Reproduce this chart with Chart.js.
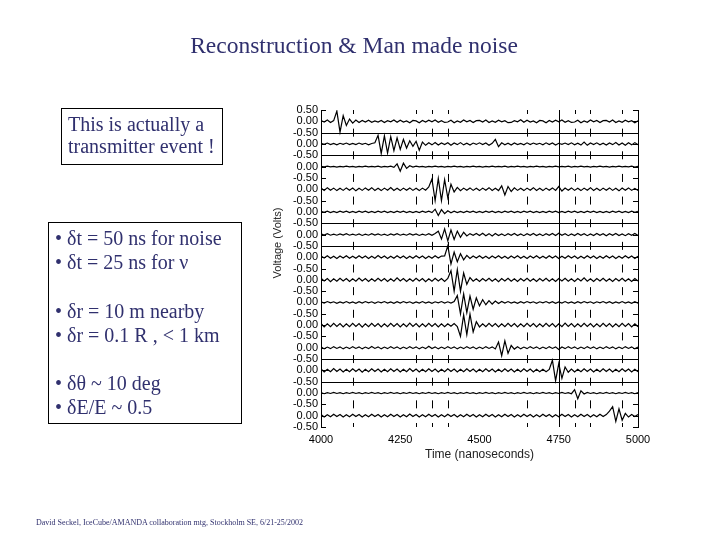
<!DOCTYPE html>
<html>
<head>
<meta charset="utf-8">
<script src="https://cdn.jsdelivr.net/npm/chart.js@4.4.0/dist/chart.umd.min.js"></script>
<style>
  body { margin: 0; background: #fff; }
  #pagina { position: relative; width: 720px; height: 540px; overflow: hidden; }
  #grafico { position: absolute; left: 0; top: 0; }
  .texto { position: absolute; font-family: "Liberation Serif", "Times New Roman", serif; color: #30306e; white-space: nowrap; }
  #titulo { left: 0; width: 708px; top: 32px; text-align: center; font-size: 23.5px; }
  .caixa { border: 1px solid #000; box-sizing: border-box; font-size: 20px; }
  #caixa1 { left: 61px; top: 108px; width: 162px; height: 57px; padding: 4px 0 0 6px; line-height: 22px; }
  #caixa2 { left: 48px; top: 222px; width: 194px; height: 202px; padding: 3px 0 0 6px; line-height: 24.2px; }
  #rodape { left: 36px; top: 518px; font-size: 8px; color: #30306e; }
  #tituloY { position: absolute; left: 227px; top: 236px; width: 100px; height: 14px; line-height: 14px;
             text-align: center; font-family: "Liberation Sans", Arial, sans-serif; font-size: 11px; color: #222;
             transform: rotate(-90deg); white-space: nowrap; }
</style>
</head>
<body>
<div id="pagina">
  <canvas id="grafico" width="720" height="540"></canvas>
  <div class="texto" id="titulo">Reconstruction &amp; Man made noise</div>
  <div class="texto caixa" id="caixa1">This is actually a<br>transmitter event !</div>
  <div class="texto caixa" id="caixa2">• δt = 50 ns for noise<br>• δt = 25 ns for ν<br><br>• δr = 10 m nearby<br>• δr = 0.1 R , &lt; 1 km<br><br>• δθ ~ 10 deg<br>• δE/E ~ 0.5</div>
  <div id="tituloY">Voltage (Volts)</div>
  <div class="texto" id="rodape">David Seckel, IceCube/AMANDA collaboration mtg, Stockholm SE, 6/21-25/2002</div>
</div>
<script>
// Amostragem comum dos tracos (ns)
const inicioAmostra = 4000;
const passoAmostra = 10;

// Tensao (V) de cada canal, uma amostra a cada 10 ns
const traco1 = [
  0.04, -0.03, 0.06, -0.05, 0.03, 0.45, -0.48, 0.25, -0.18, 0.10,
  -0.08, 0.06, -0.05, 0.04, -0.03, 0.05, -0.04, 0.02, -0.03, 0.04,
  -0.05, 0.03, -0.02, 0.06, -0.04, 0.05, -0.03, 0.02, -0.06, 0.04,
  0.02, -0.06, 0.04, -0.03, 0.05, -0.02, 0.06, -0.04, 0.03, -0.05,
  -0.03, 0.05, -0.06, 0.02, -0.04, 0.06, -0.02, 0.04, -0.05, 0.03,
  0.04, -0.03, 0.06, -0.05, 0.02, -0.04, 0.05, -0.02, 0.03, -0.06,
  -0.05, 0.03, -0.02, 0.07, -0.04, 0.05, -0.03, 0.02, -0.06, 0.04,
  0.02, -0.06, 0.04, -0.03, 0.05, -0.02, 0.06, -0.04, 0.03, -0.05,
  -0.03, 0.05, -0.06, 0.02, -0.04, 0.06, -0.02, 0.04, -0.05, 0.03,
  0.04, -0.03, 0.06, -0.05, 0.02, -0.04, 0.05, -0.02, 0.03, -0.06,
  0.02
];
const traco2 = [
  0.03, -0.02, 0.04, -0.03, 0.02, -0.04, 0.03, -0.02, 0.04, -0.03,
  0.02, -0.03, 0.04, -0.02, 0.03, -0.04, 0.02, 0.05, 0.38, -0.42,
  0.36, -0.40, 0.32, -0.30, 0.27, -0.24, 0.20, -0.18, 0.14, -0.10,
  0.12, -0.28, 0.08, -0.06, 0.05, -0.04, 0.06, -0.05, 0.04, -0.03,
  0.05, -0.06, 0.04, -0.03, 0.06, -0.04, 0.03, -0.05, 0.04, -0.02,
  0.05, -0.03, 0.04, -0.06, 0.03, 0.20, -0.12, 0.05, -0.04, 0.03,
  -0.05, 0.04, -0.03, 0.02, -0.04, 0.05, -0.03, 0.04, -0.02, 0.03,
  -0.04, 0.05, -0.03, 0.04, -0.05, 0.03, -0.02, 0.04, -0.03, 0.05,
  -0.04, 0.03, -0.05, 0.08, -0.06, 0.04, -0.03, 0.05, -0.04, 0.03,
  -0.05, 0.04, -0.03, 0.06, -0.05, 0.04, -0.06, 0.05, -0.04, 0.06,
  -0.03
];
const traco3 = [
  0.01, -0.01, 0.02, -0.01, 0.01, -0.02, 0.01, -0.01, 0.02, -0.01,
  0.01, -0.02, 0.01, -0.01, 0.02, -0.01, 0.01, -0.01, 0.02, -0.02,
  0.01, -0.01, 0.02, -0.03, 0.12, -0.20, 0.15, -0.08, 0.04, -0.02,
  0.02, -0.01, 0.01, -0.02, 0.01, -0.01, 0.02, -0.01, 0.01, -0.02,
  0.01, -0.01, 0.02, -0.01, 0.01, -0.02, 0.01, -0.01, 0.02, -0.01,
  0.01, -0.02, 0.01, -0.01, 0.02, -0.01, 0.01, -0.01, 0.02, -0.02,
  0.01, -0.01, 0.02, -0.01, 0.01, -0.02, 0.01, -0.01, 0.02, -0.01,
  0.01, -0.02, 0.01, -0.01, 0.02, -0.01, 0.01, -0.01, 0.02, -0.02,
  0.01, -0.01, 0.02, -0.01, 0.01, -0.02, 0.01, -0.01, 0.02, -0.01,
  0.01, -0.02, 0.01, -0.01, 0.02, -0.01, 0.01, -0.01, 0.02, -0.02,
  0.01
];
const traco4 = [
  0.06, -0.05, 0.07, -0.04, 0.05, -0.06, 0.04, -0.05, 0.06, -0.04,
  0.05, -0.07, 0.04, -0.05, 0.06, -0.04, 0.07, -0.05, 0.04, -0.06,
  0.05, -0.04, 0.08, -0.05, 0.04, -0.06, 0.05, -0.04, 0.06, -0.05,
  0.04, -0.06, 0.05, -0.04, 0.10, 0.45, -0.50, 0.48, -0.50, 0.42,
  -0.38, 0.22, -0.12, 0.08, -0.06, 0.05, -0.04, 0.06, -0.05, 0.04,
  -0.06, 0.05, -0.04, 0.07, -0.05, 0.04, -0.06, 0.15, -0.25, 0.12,
  -0.10, 0.06, -0.05, 0.04, -0.06, 0.05, -0.04, 0.07, -0.05, 0.04,
  -0.06, 0.05, -0.04, 0.06, -0.05, 0.12, -0.08, 0.05, -0.04, 0.06,
  -0.05, 0.04, -0.06, 0.05, -0.04, 0.07, -0.05, 0.04, -0.06, 0.05,
  -0.04, 0.06, -0.05, 0.04, -0.07, 0.05, -0.04, 0.06, -0.05, 0.04,
  -0.05
];
const traco5 = [
  0.03, -0.02, 0.03, -0.03, 0.02, -0.03, 0.03, -0.02, 0.03, -0.03,
  0.02, -0.03, 0.03, -0.02, 0.03, -0.03, 0.02, -0.03, 0.03, -0.02,
  0.03, -0.03, 0.02, -0.03, 0.03, -0.02, 0.03, -0.03, 0.02, -0.03,
  0.02, -0.03, 0.03, -0.02, 0.03, -0.03, 0.12, -0.16, 0.10, -0.08,
  0.05, -0.04, 0.03, -0.03, 0.02, -0.03, 0.03, -0.02, 0.03, -0.03,
  0.02, -0.03, 0.03, -0.02, 0.03, -0.03, 0.02, -0.03, 0.03, -0.02,
  0.03, -0.03, 0.02, -0.03, 0.03, -0.02, 0.03, -0.03, 0.02, -0.03,
  0.02, -0.03, 0.03, -0.02, 0.03, -0.03, 0.02, -0.03, 0.03, -0.02,
  0.03, -0.03, 0.02, -0.03, 0.03, -0.02, 0.03, -0.03, 0.02, -0.03,
  0.02, -0.03, 0.03, -0.02, 0.03, -0.03, 0.02, -0.03, 0.03, -0.02,
  0.03
];
const traco6 = [
  0.03, -0.02, 0.04, -0.03, 0.02, -0.03, 0.03, -0.02, 0.04, -0.03,
  0.02, -0.03, 0.03, -0.04, 0.02, -0.03, 0.04, -0.02, 0.03, -0.03,
  0.02, -0.04, 0.03, -0.02, 0.04, -0.03, 0.02, -0.03, 0.04, -0.02,
  0.03, -0.04, 0.02, -0.03, 0.04, -0.03, 0.05, 0.15, -0.20, 0.25,
  -0.28, 0.20, -0.22, 0.15, -0.12, 0.10, -0.06, 0.04, -0.03, 0.05,
  -0.04, 0.06, -0.05, 0.04, -0.06, 0.05, -0.04, 0.03, -0.05, 0.04,
  -0.03, 0.05, -0.04, 0.03, -0.05, 0.04, -0.03, 0.05, -0.04, 0.03,
  -0.05, 0.04, -0.03, 0.05, -0.04, 0.06, -0.03, 0.04, -0.05, 0.03,
  -0.04, 0.05, -0.03, 0.04, -0.05, 0.03, -0.04, 0.05, -0.03, 0.04,
  -0.05, 0.04, -0.03, 0.05, -0.04, 0.03, -0.05, 0.04, -0.03, 0.05,
  -0.04
];
const traco7 = [
  0.05, -0.04, 0.06, -0.05, 0.04, -0.06, 0.05, -0.04, 0.06, -0.05,
  0.04, -0.05, 0.06, -0.04, 0.05, -0.06, 0.04, -0.05, 0.07, -0.04,
  0.05, -0.06, 0.04, -0.05, 0.06, -0.04, 0.05, -0.06, 0.04, -0.05,
  0.06, -0.04, 0.05, -0.06, 0.04, -0.05, 0.06, -0.04, 0.05, 0.06,
  0.50, -0.30, 0.22, -0.20, 0.15, -0.12, 0.08, -0.06, 0.05, -0.04,
  0.06, -0.05, 0.04, -0.06, 0.05, -0.04, 0.06, -0.05, 0.04, -0.06,
  0.05, -0.04, 0.06, -0.05, 0.04, -0.06, 0.05, -0.04, 0.06, -0.05,
  0.04, -0.05, 0.06, -0.04, 0.05, -0.06, 0.04, -0.05, 0.06, -0.04,
  0.05, -0.06, 0.04, -0.05, 0.06, -0.04, 0.05, -0.06, 0.04, -0.05,
  0.06, -0.04, 0.05, -0.06, 0.04, -0.05, 0.06, -0.04, 0.05, -0.06,
  0.04
];
const traco8 = [
  0.07, -0.05, 0.06, -0.08, 0.05, -0.06, 0.07, -0.05, 0.06, -0.07,
  0.05, -0.06, 0.08, -0.05, 0.06, -0.07, 0.05, -0.06, 0.07, -0.05,
  0.06, -0.07, 0.05, -0.06, 0.09, -0.05, 0.06, -0.07, 0.05, -0.06,
  0.07, -0.05, 0.06, -0.08, 0.05, -0.06, 0.07, -0.05, 0.06, -0.07,
  0.06, 0.40, -0.50, 0.45, -0.50, 0.30, -0.20, 0.10, -0.06, 0.05,
  -0.07, 0.06, -0.05, 0.07, -0.06, 0.05, -0.08, 0.06, -0.05, 0.07,
  -0.06, 0.05, -0.07, 0.06, -0.05, 0.07, -0.06, 0.05, -0.07, 0.06,
  -0.05, 0.07, -0.06, 0.05, -0.07, 0.06, -0.05, 0.07, -0.06, 0.05,
  -0.07, 0.06, -0.05, 0.09, -0.06, 0.05, -0.07, 0.06, -0.05, 0.07,
  -0.06, 0.05, -0.07, 0.06, -0.05, 0.07, -0.06, 0.05, -0.07, 0.06,
  -0.05
];
const traco9 = [
  0.03, -0.03, 0.04, -0.02, 0.03, -0.04, 0.02, -0.03, 0.04, -0.03,
  0.02, -0.04, 0.03, -0.03, 0.04, -0.02, 0.03, -0.04, 0.03, -0.02,
  0.04, -0.03, 0.02, -0.04, 0.03, -0.03, 0.04, -0.02, 0.03, -0.04,
  0.02, -0.03, 0.04, -0.03, 0.02, -0.04, 0.03, -0.02, 0.04, -0.03,
  0.03, -0.03, 0.04, 0.30, -0.50, 0.38, -0.45, 0.28, -0.30, 0.20,
  -0.15, 0.12, -0.10, 0.08, -0.07, 0.06, -0.05, 0.04, -0.03, 0.04,
  -0.03, 0.02, -0.04, 0.03, -0.03, 0.04, -0.02, 0.03, -0.04, 0.03,
  -0.02, 0.04, -0.03, 0.03, -0.04, 0.02, -0.03, 0.04, -0.03, 0.02,
  -0.04, 0.03, -0.03, 0.04, -0.02, 0.03, -0.04, 0.03, -0.02, 0.04,
  -0.03, 0.03, -0.04, 0.02, -0.03, 0.04, -0.03, 0.02, -0.04, 0.03,
  -0.03
];
const traco10 = [
  0.07, -0.08, 0.06, -0.07, 0.08, -0.06, 0.07, -0.08, 0.06, -0.07,
  0.08, -0.06, 0.07, -0.09, 0.06, -0.07, 0.08, -0.06, 0.07, -0.08,
  0.06, -0.07, 0.08, -0.06, 0.07, -0.08, 0.06, -0.07, 0.09, -0.06,
  0.07, -0.08, 0.06, -0.07, 0.08, -0.06, 0.07, -0.08, 0.06, -0.07,
  0.06, -0.05, 0.07, -0.06, -0.50, 0.45, -0.42, 0.48, -0.30, 0.15,
  -0.08, 0.06, -0.07, 0.08, -0.06, 0.07, -0.08, 0.06, -0.07, 0.08,
  -0.06, 0.07, -0.08, 0.06, -0.07, 0.08, -0.06, 0.07, -0.08, 0.06,
  -0.07, 0.08, -0.06, 0.07, -0.08, 0.06, -0.07, 0.09, -0.06, 0.07,
  -0.08, 0.06, -0.07, 0.08, -0.06, 0.07, -0.08, 0.06, -0.07, 0.08,
  -0.06, 0.07, -0.08, 0.06, -0.07, 0.08, -0.06, 0.07, -0.08, 0.06,
  -0.07
];
const traco11 = [
  0.04, -0.05, 0.03, -0.04, 0.05, -0.03, 0.04, -0.05, 0.03, -0.04,
  0.05, -0.03, 0.04, -0.05, 0.03, -0.04, 0.06, -0.03, 0.04, -0.05,
  0.03, -0.04, 0.05, -0.03, 0.04, -0.05, 0.03, -0.04, 0.05, -0.03,
  0.04, -0.05, 0.03, -0.04, 0.07, -0.03, 0.04, -0.05, 0.03, -0.04,
  0.05, -0.03, 0.04, -0.05, 0.03, -0.04, 0.05, -0.03, 0.04, -0.05,
  0.03, -0.04, 0.05, -0.03, 0.04, -0.05, 0.25, -0.35, 0.30, -0.25,
  0.10, -0.06, 0.04, -0.05, 0.03, -0.04, 0.05, -0.03, 0.04, -0.05,
  0.03, -0.04, 0.05, -0.03, 0.04, -0.08, 0.03, -0.04, 0.05, -0.03,
  0.04, -0.05, 0.03, -0.04, 0.05, -0.03, 0.04, -0.05, 0.03, -0.04,
  0.05, -0.03, 0.04, -0.05, 0.03, -0.04, 0.05, -0.03, 0.04, -0.05,
  0.03
];
const traco12 = [
  0.06, -0.07, 0.05, -0.06, 0.08, -0.05, 0.06, -0.07, 0.05, -0.06,
  0.07, -0.05, 0.06, -0.08, 0.05, -0.06, 0.07, -0.05, 0.06, -0.07,
  0.05, -0.06, 0.07, -0.05, 0.06, -0.07, 0.05, -0.06, 0.08, -0.05,
  0.06, -0.07, 0.05, -0.06, 0.07, -0.05, 0.06, -0.07, 0.05, -0.06,
  0.07, -0.05, 0.06, -0.07, 0.05, -0.06, 0.07, -0.05, 0.06, -0.07,
  0.05, -0.06, 0.07, -0.05, 0.06, -0.07, 0.05, -0.06, 0.07, -0.05,
  0.06, -0.07, 0.05, -0.06, 0.07, -0.05, 0.06, -0.07, 0.05, -0.06,
  0.05, -0.06, 0.04, 0.45, -0.45, 0.30, -0.35, 0.15, -0.08, 0.06,
  -0.07, 0.05, -0.06, 0.07, -0.05, 0.06, -0.07, 0.05, -0.06, 0.07,
  -0.05, 0.06, -0.07, 0.05, -0.06, 0.07, -0.05, 0.06, -0.07, 0.05,
  -0.06
];
const traco13 = [
  0.02, -0.03, 0.02, -0.02, 0.03, -0.02, 0.02, -0.03, 0.02, -0.02,
  0.03, -0.02, 0.02, -0.03, 0.02, -0.02, 0.03, -0.02, 0.02, -0.03,
  0.02, -0.02, 0.03, -0.02, 0.02, -0.03, 0.02, -0.02, 0.03, -0.02,
  0.02, -0.03, 0.02, -0.02, 0.03, -0.02, 0.02, -0.03, 0.02, -0.02,
  0.03, -0.02, 0.02, -0.03, 0.02, -0.02, 0.03, -0.02, 0.02, -0.03,
  0.02, -0.02, 0.03, -0.02, 0.02, -0.03, 0.02, -0.02, 0.03, -0.02,
  0.02, -0.03, 0.02, -0.02, 0.03, -0.02, 0.02, -0.03, 0.02, -0.02,
  0.03, -0.02, 0.02, -0.03, 0.02, -0.02, 0.03, -0.02, 0.02, -0.03,
  0.15, -0.25, 0.10, -0.04, 0.03, -0.02, 0.02, -0.03, 0.02, -0.02,
  0.03, -0.02, 0.02, -0.03, 0.02, -0.02, 0.03, -0.02, 0.02, -0.03,
  0.02
];
const traco14 = [
  0.05, -0.06, 0.04, -0.05, 0.06, -0.04, 0.05, -0.06, 0.04, -0.05,
  0.06, -0.04, 0.05, -0.06, 0.04, -0.05, 0.06, -0.04, 0.05, -0.06,
  0.04, -0.05, 0.06, -0.04, 0.05, -0.06, 0.04, -0.05, 0.07, -0.04,
  0.05, -0.06, 0.04, -0.05, 0.06, -0.04, 0.05, -0.06, 0.04, -0.05,
  0.06, -0.04, 0.05, -0.06, 0.04, -0.05, 0.06, -0.04, 0.05, -0.06,
  0.04, -0.05, 0.06, -0.04, 0.05, -0.06, 0.04, -0.05, 0.06, -0.04,
  0.05, -0.06, 0.04, -0.05, 0.06, -0.04, 0.05, -0.06, 0.04, -0.05,
  0.06, -0.04, 0.05, -0.06, 0.04, -0.05, 0.06, -0.04, 0.05, -0.06,
  0.04, -0.05, 0.06, -0.04, 0.05, -0.06, 0.04, -0.05, 0.06, -0.04,
  0.05, 0.20, 0.40, -0.25, 0.30, -0.20, 0.10, -0.06, 0.05, -0.04,
  0.05
];

const tracos = [traco1, traco2, traco3, traco4, traco5, traco6, traco7,
                traco8, traco9, traco10, traco11, traco12, traco13, traco14];

// Eixo do tempo
const tempoMin = 4000;
const tempoMax = 5000;
const passoTempo = 250;

// Tempos marcados (ns) e linha vertical completa
const temposMarcados = [4100, 4300, 4350, 4400, 4650, 4750, 4800, 4850, 4950];
const tempoLinhaVertical = 4750;

// Separadores horizontais desenhados depois destes canais
const separadores = [1, 2, 5, 6, 11, 12];

// Cada canal fica deslocado de 1 V para baixo
const datasets = tracos.map(function(traco, i) {
    return {
        data: traco.map(function(v, k) {
            return { x: inicioAmostra + k * passoAmostra, y: v - i };
        }),
        borderColor: '#000',
        borderWidth: 1.2,
        pointRadius: 0,
        tension: 0
    };
});

// Plugin para as marcas de tempo, separadores e tracinhos internos dos eixos
const marcasPlugin = {
    id: 'marcas',
    beforeDatasetsDraw: function(chart) {
        const ctx = chart.ctx;
        const area = chart.chartArea;
        const x = chart.scales.x;
        const y = chart.scales.y;
        ctx.save();
        ctx.strokeStyle = '#000';
        ctx.lineWidth = 1;
        ctx.beginPath();

        separadores.forEach(function(n) {
            const py = Math.round(y.getPixelForValue(0.5 - n)) + 0.5;
            ctx.moveTo(area.left, py);
            ctx.lineTo(area.right, py);
        });

        const px4750 = Math.round(x.getPixelForValue(tempoLinhaVertical)) + 0.5;
        ctx.moveTo(px4750, area.top);
        ctx.lineTo(px4750, area.bottom);

        for (let j = 0; j <= tracos.length; j++) {
            const py = y.getPixelForValue(0.5 - j);
            const acima = j === 0 ? 0 : 4;
            const abaixo = j === tracos.length ? 0 : 4;
            temposMarcados.forEach(function(t) {
                const px = Math.round(x.getPixelForValue(t)) + 0.5;
                ctx.moveTo(px, py - acima);
                ctx.lineTo(px, py + abaixo);
            });
        }

        y.ticks.forEach(function(tk) {
            const py = Math.round(y.getPixelForValue(tk.value)) + 0.5;
            ctx.moveTo(area.left, py);
            ctx.lineTo(area.left + 5, py);
            ctx.moveTo(area.right, py);
            ctx.lineTo(area.right - 5, py);
        });
        ctx.stroke();
        ctx.restore();
    }
};

new Chart(document.getElementById('grafico').getContext('2d'), {
    type: 'line',
    data: { datasets: datasets },
    plugins: [marcasPlugin],
    options: {
        responsive: false,
        animation: false,
        events: [],
        layout: { padding: { left: 266, right: 82, top: 110, bottom: 70 } },
        plugins: {
            legend: { display: false },
            tooltip: { enabled: false }
        },
        scales: {
            x: {
                type: 'linear',
                min: tempoMin,
                max: tempoMax,
                afterFit: function(scale) { scale.height = 43; },
                ticks: {
                    stepSize: passoTempo,
                    maxRotation: 0,
                    padding: 6,
                    color: '#000',
                    font: { family: 'Liberation Sans', size: 11 },
                    callback: function(v) { return String(v); }
                },
                grid: { display: false, drawTicks: false },
                border: { display: false },
                title: {
                    display: true,
                    text: 'Time (nanoseconds)',
                    color: '#222',
                    font: { family: 'Liberation Sans', size: 12 },
                    padding: { top: 0, bottom: 8 }
                }
            },
            y: {
                type: 'linear',
                min: 0.5 - tracos.length,
                max: 0.5,
                afterFit: function(scale) { scale.width = 55; },
                ticks: {
                    stepSize: 0.5,
                    autoSkip: false,
                    padding: 3,
                    color: '#000',
                    font: { family: 'Liberation Sans', size: 11 },
                    callback: function(v) {
                        if (Math.abs(v - 0.5) < 1e-6) return '0.50';
                        return Math.abs(v - Math.round(v)) < 1e-6 ? '0.00' : '-0.50';
                    }
                },
                grid: { drawOnChartArea: false, drawTicks: false },
                border: { display: true, color: '#000', width: 1 }
            },
            y2: {
                type: 'linear',
                position: 'right',
                min: 0.5 - tracos.length,
                max: 0.5,
                afterFit: function(scale) { scale.width = 0; },
                ticks: { display: false },
                grid: { drawOnChartArea: false, drawTicks: false },
                border: { display: true, color: '#000', width: 1 }
            }
        }
    }
});
</script>
</body>
</html>
